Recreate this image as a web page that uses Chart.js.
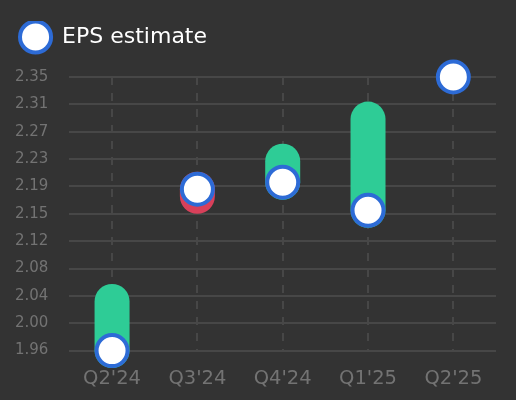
<!DOCTYPE html>
<html>
<head>
<meta charset="utf-8">
<script src="https://cdn.jsdelivr.net/npm/chart.js@4"></script>
<style>
  html, body { margin: 0; padding: 0; background: #333333; }
  #wrap { width: 516px; height: 400px; }
</style>
</head>
<body>
<div id="wrap"><canvas id="c"></canvas></div>
<script>
const categories = ["Q2'24", "Q3'24", "Q4'24", "Q1'25", "Q2'25"];
const estimate = [1.96, 2.19, 2.20, 2.16, 2.35];
const actual = [2.03, 2.18, 2.23, 2.29, null];
const yMin = 1.96;
const yMax = 2.35;

const GREEN = '#2ecc96';
const RED = '#d8405a';
const BLUE = '#2d6bd6';
const GRID = '#474747';
const TICK = '#737373';

// range segments: estimate -> actual for each reported quarter
const rangeData = [];
categories.forEach((c, i) => {
  if (actual[i] !== null) {
    rangeData.push({ x: c, y: estimate[i] });
    rangeData.push({ x: c, y: actual[i] });
    rangeData.push({ x: c, y: null });
  }
});

const legendSpacer = {
  id: 'legendSpacer',
  afterInit(chart) {
    const lg = chart.legend;
    const f = lg.fit;
    lg.fit = function () { f.call(this); this.height += 19; };
  }
};

new Chart(document.getElementById('c'), {
  type: 'line',
  data: {
    labels: categories,
    datasets: [
      {
        label: 'EPS estimate',
        data: estimate,
        showLine: false,
        pointStyle: 'circle',
        pointRadius: 15.5,
        pointHoverRadius: 15.5,
        pointBorderWidth: 4,
        pointHoverBorderWidth: 4,
        pointBackgroundColor: '#ffffff',
        pointBorderColor: BLUE,
        backgroundColor: '#ffffff',
        borderColor: BLUE,
        borderWidth: 4,
        clip: false
      },
      {
        label: 'range',
        data: rangeData,
        borderWidth: 35,
        borderCapStyle: 'round',
        borderColor: GREEN,
        pointRadius: 0,
        pointHoverRadius: 0,
        spanGaps: false,
        tension: 0,
        clip: false,
        segment: {
          borderColor: ctx => (ctx.p1.parsed.y >= ctx.p0.parsed.y ? GREEN : RED)
        }
      }
    ]
  },
  plugins: [legendSpacer],
  options: {
    responsive: true,
    maintainAspectRatio: false,
    animation: false,
    events: [],
    layout: { autoPadding: false, padding: { left: 15, right: 20, top: 21, bottom: 9 } },
    plugins: {
      tooltip: { enabled: false },
      legend: {
        display: true,
        position: 'top',
        align: 'start',
        labels: {
          filter: item => item.datasetIndex === 0,
          usePointStyle: true,
          pointStyle: 'circle',
          boxHeight: 22,
          pointStyleWidth: 31.1,
          padding: 5,
          color: '#ffffff',
          font: { family: 'DejaVu Sans', size: 22 }
        }
      }
    },
    scales: {
      x: {
        type: 'category',
        offset: true,
        border: { display: false, dash: [8, 8] },
        grid: {
          color: GRID,
          lineWidth: 2,
          drawTicks: true,
          tickLength: 17,
          tickColor: 'rgba(0,0,0,0)',
          offset: false
        },
        ticks: {
          color: TICK,
          padding: 0,
          font: { family: 'DejaVu Sans', size: 19.5 }
        }
      },
      y: {
        min: yMin,
        max: yMax,
        border: { display: false },
        grid: {
          color: GRID,
          lineWidth: 2,
          drawTicks: true,
          tickLength: 21,
          tickColor: 'rgba(0,0,0,0)'
        },
        ticks: {
          count: 11,
          color: TICK,
          padding: 0,
          font: { family: 'DejaVu Sans', size: 15 },
          callback: v => (Math.round(v * 1000) / 1000).toFixed(2)
        }
      }
    }
  }
});
</script>
</body>
</html>
